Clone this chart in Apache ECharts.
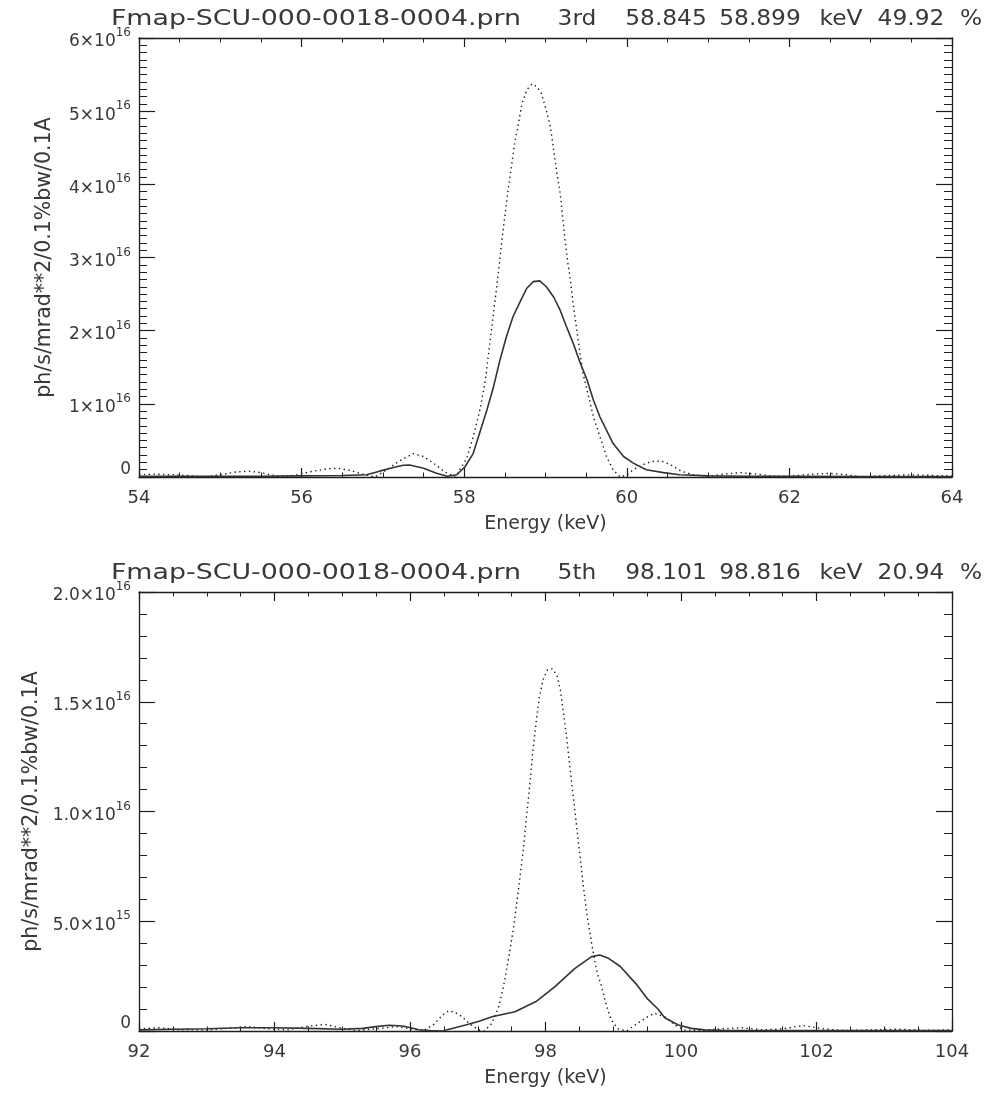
<!DOCTYPE html>
<html>
<head>
<meta charset="utf-8">
<script src="https://cdn.jsdelivr.net/npm/echarts@6/dist/echarts.min.js"></script>
<style>
html, body { margin: 0; padding: 0; background: #fff; }
#chart { width: 988px; height: 1093px; }
</style>
</head>
<body>
<div id="chart"></div>
<script>
// 3rd harmonic, flux in units of 1e16
const solid3E = [54.0, 54.5, 55.0, 55.5, 56.0, 56.5, 56.8, 56.96, 57.13, 57.25, 57.33, 57.5, 57.66, 57.79, 57.91, 58.01, 58.11, 58.19, 58.28, 58.36, 58.44, 58.52, 58.60, 58.69, 58.77, 58.85, 58.93, 59.01, 59.10, 59.18, 59.26, 59.34, 59.42, 59.51, 59.59, 59.67, 59.75, 59.83, 59.96, 60.08, 60.24, 60.45, 60.65, 61.0, 61.5, 62.0, 63.0, 64.0];
const solid3V = [0.01, 0.01, 0.01, 0.01, 0.015, 0.02, 0.03, 0.08, 0.13, 0.16, 0.165, 0.12, 0.05, 0.01, 0.03, 0.14, 0.32, 0.60, 0.92, 1.23, 1.60, 1.92, 2.19, 2.40, 2.58, 2.67, 2.68, 2.60, 2.46, 2.28, 2.05, 1.83, 1.58, 1.33, 1.05, 0.82, 0.64, 0.46, 0.28, 0.19, 0.10, 0.06, 0.03, 0.015, 0.01, 0.01, 0.005, 0.005];
const dot3E = [54.0, 54.2, 54.4, 54.6, 54.8, 55.0, 55.2, 55.35, 55.5, 55.7, 55.9, 56.1, 56.3, 56.45, 56.6, 56.75, 56.9, 57.05, 57.19, 57.37, 57.50, 57.62, 57.76, 57.89, 58.03, 58.11, 58.19, 58.26, 58.32, 58.38, 58.42, 58.46, 58.50, 58.54, 58.58, 58.62, 58.67, 58.71, 58.77, 58.83, 58.89, 58.95, 59.01, 59.06, 59.10, 59.14, 59.18, 59.21, 59.24, 59.27, 59.30, 59.34, 59.38, 59.42, 59.46, 59.53, 59.59, 59.67, 59.75, 59.83, 59.92, 60.0, 60.08, 60.24, 60.35, 60.45, 60.55, 60.67, 60.82, 61.0, 61.2, 61.4, 61.6, 61.8, 62.0, 62.3, 62.5, 62.7, 62.9, 63.2, 63.5, 63.8, 64.0];
const dot3V = [0.03, 0.04, 0.03, 0.02, 0.0, 0.03, 0.07, 0.08, 0.06, 0.01, 0.02, 0.07, 0.11, 0.12, 0.09, 0.04, 0.0, 0.10, 0.21, 0.32, 0.28, 0.19, 0.07, 0.0, 0.25, 0.55, 0.90, 1.32, 1.87, 2.42, 2.78, 3.21, 3.56, 3.92, 4.24, 4.56, 4.85, 5.10, 5.29, 5.37, 5.34, 5.24, 5.01, 4.79, 4.47, 4.15, 3.88, 3.56, 3.24, 2.96, 2.74, 2.37, 2.05, 1.73, 1.42, 1.10, 0.82, 0.55, 0.28, 0.10, 0.0, 0.03, 0.10, 0.19, 0.22, 0.21, 0.16, 0.08, 0.03, 0.01, 0.04, 0.06, 0.04, 0.01, 0.01, 0.04, 0.05, 0.03, 0.0, 0.02, 0.03, 0.02, 0.01];

// 5th harmonic, flux in units of 1e15
const solid5E = [92.0, 92.5, 93.0, 93.5, 94.0, 94.5, 95.0, 95.3, 95.5, 95.69, 95.89, 96.01, 96.13, 96.3, 96.48, 96.82, 97.01, 97.21, 97.55, 97.86, 98.14, 98.43, 98.68, 98.80, 98.93, 99.1, 99.35, 99.51, 99.66, 99.76, 99.96, 100.15, 100.35, 100.6, 101.0, 102.0, 103.0, 104.0];
const solid5V = [0.05, 0.08, 0.10, 0.15, 0.15, 0.12, 0.08, 0.12, 0.20, 0.26, 0.23, 0.15, 0.06, 0.02, 0.0, 0.27, 0.43, 0.65, 0.88, 1.34, 2.02, 2.84, 3.39, 3.46, 3.31, 2.95, 2.10, 1.45, 1.0, 0.60, 0.27, 0.12, 0.05, 0.03, 0.02, 0.02, 0.02, 0.02];
const dot5E = [92.0, 92.3, 92.6, 93.0, 93.3, 93.6, 93.9, 94.2, 94.5, 94.75, 95.0, 95.2, 95.5, 95.8, 96.0, 96.2, 96.35, 96.48, 96.57, 96.67, 96.77, 96.87, 97.01, 97.1, 97.21, 97.31, 97.38, 97.46, 97.53, 97.60, 97.66, 97.72, 97.77, 97.81, 97.86, 97.91, 97.97, 98.03, 98.10, 98.17, 98.22, 98.26, 98.31, 98.36, 98.41, 98.46, 98.51, 98.56, 98.61, 98.68, 98.75, 98.83, 98.90, 98.97, 99.07, 99.2, 99.32, 99.47, 99.61, 99.76, 99.91, 100.05, 100.3, 100.6, 100.9, 101.2, 101.5, 101.8, 102.1, 102.4, 102.8, 103.2, 103.6, 104.0];
const dot5V = [0.10, 0.15, 0.05, 0.05, 0.12, 0.20, 0.10, 0.05, 0.22, 0.30, 0.12, 0.02, 0.10, 0.20, 0.10, 0.02, 0.30, 0.73, 0.93, 0.84, 0.65, 0.35, 0.05, 0.0, 0.35, 1.11, 2.02, 3.39, 4.75, 6.42, 7.94, 9.76, 11.28, 12.65, 14.02, 15.23, 16.07, 16.45, 16.5, 16.2, 15.53, 14.62, 13.41, 12.04, 10.67, 9.31, 7.94, 6.57, 5.36, 4.0, 2.8, 2.0, 1.15, 0.5, 0.1, 0.0, 0.27, 0.58, 0.81, 0.65, 0.27, 0.05, 0.02, 0.10, 0.15, 0.05, 0.10, 0.25, 0.10, 0.02, 0.05, 0.08, 0.03, 0.05];

const titleTop = ['Fmap-SCU-000-0018-0004.prn', '3rd', '58.845', '58.899', 'keV', '49.92', '%'];
const titleBottom = ['Fmap-SCU-000-0018-0004.prn', '5th', '98.101', '98.816', 'keV', '20.94', '%'];

const FONT = '"DejaVu Sans", sans-serif';
const INK = '#383838';
const AX = '#1e1e1e';

// centre of each title word, and its horizontal stretch
const wordCenter = [316, 577, 666, 760, 841, 911, 971];
const wordScale = [1.22, 1.06, 1.06, 1.06, 1.06, 1.06, 1.06];

function titleWords(words, y) {
  return words.map((w, i) => ({
    type: 'text',
    x: wordCenter[i],
    y: y,
    scaleX: wordScale[i],
    style: { text: w, fontSize: 22, fontFamily: FONT, fill: INK, align: 'center', verticalAlign: 'middle' }
  }));
}

const pairs = (xs, ys) => xs.map((x, i) => [x, ys[i]]);

const richY = {
  m: { fontSize: 17, fontFamily: FONT, color: INK, lineHeight: 22, padding: [8, 0, 0, 0] },
  s: { fontSize: 12, fontFamily: FONT, color: INK, lineHeight: 14, verticalAlign: 'top' },
  z: { fontSize: 17, fontFamily: FONT, color: INK, lineHeight: 22, padding: [0, 0, 14, 0] }
};

function fmtTop(v) {
  if (v === 0) return '{z|0}';
  return '{m|' + v + '×10}{s|16}';
}
function fmtBottom(v) {
  if (v === 0) return '{z|0}';
  if (v >= 10) return '{m|' + (v / 10).toFixed(1) + '×10}{s|16}';
  return '{m|' + v.toFixed(1) + '×10}{s|15}';
}

function xAxes(grid, min, max) {
  const base = {
    type: 'value', gridIndex: grid, min: min, max: max, interval: 2,
    axisLine: { show: true, onZero: false, lineStyle: { color: AX, width: 1.3 } },
    axisTick: { show: true, inside: true, length: 9, lineStyle: { color: AX, width: 1.2 } },
    minorTick: { show: true, splitNumber: 4, length: 4.5, lineStyle: { color: AX, width: 1 } },
    splitLine: { show: false }
  };
  return [
    Object.assign({}, base, {
      position: 'bottom',
      name: 'Energy (keV)', nameLocation: 'middle', nameGap: 38,
      nameTextStyle: { fontSize: 19, fontFamily: FONT, color: INK },
      axisLabel: { margin: 12, fontSize: 18, fontFamily: FONT, color: INK }
    }),
    Object.assign({}, base, { position: 'top', axisLabel: { show: false } })
  ];
}

function yAxes(grid, max, interval, minor, fmt) {
  const base = {
    type: 'value', gridIndex: grid, min: 0, max: max, interval: interval,
    axisLine: { show: true, onZero: false, lineStyle: { color: AX, width: 1.3 } },
    axisTick: { show: true, inside: true, length: 16, lineStyle: { color: AX, width: 1.2 } },
    minorTick: { show: true, splitNumber: minor, length: 8, lineStyle: { color: AX, width: 1 } },
    splitLine: { show: false }
  };
  return [
    Object.assign({}, base, {
      position: 'left',
      name: 'ph/s/mrad**2/0.1%bw/0.1A', nameLocation: 'middle', nameGap: 84,
      nameTextStyle: { fontSize: 20.5, fontFamily: FONT, color: INK },
      axisLabel: { margin: 8, formatter: fmt, rich: richY }
    }),
    Object.assign({}, base, { position: 'right', axisLabel: { show: false } })
  ];
}

const solidStyle = { color: '#333', width: 1.6 };
const dotStyle = { color: '#1a1a1a', width: 1.4, type: [1.4, 3.4] };

function line(data, xi, yi, style) {
  return {
    type: 'line', data: data, xAxisIndex: xi, yAxisIndex: yi,
    symbol: 'none', showSymbol: false, silent: true, animation: false,
    lineStyle: style
  };
}

const chart = echarts.init(document.getElementById('chart'), null, { renderer: 'canvas' });
chart.setOption({
  backgroundColor: '#fff',
  animation: false,
  grid: [
    { left: 139, top: 38, width: 813, height: 439 },
    { left: 139, top: 592, width: 813, height: 439 }
  ],
  xAxis: [].concat(xAxes(0, 54, 64), xAxes(1, 92, 104)),
  yAxis: [].concat(yAxes(0, 6, 1, 10, fmtTop), yAxes(1, 20, 5, 5, fmtBottom)),
  graphic: [].concat(titleWords(titleTop, 19), titleWords(titleBottom, 573)),
  series: [
    line(pairs(dot3E, dot3V), 0, 0, dotStyle),
    line(pairs(solid3E, solid3V), 0, 0, solidStyle),
    line(pairs(dot5E, dot5V), 2, 2, dotStyle),
    line(pairs(solid5E, solid5V), 2, 2, solidStyle)
  ]
});
</script>
</body>
</html>
